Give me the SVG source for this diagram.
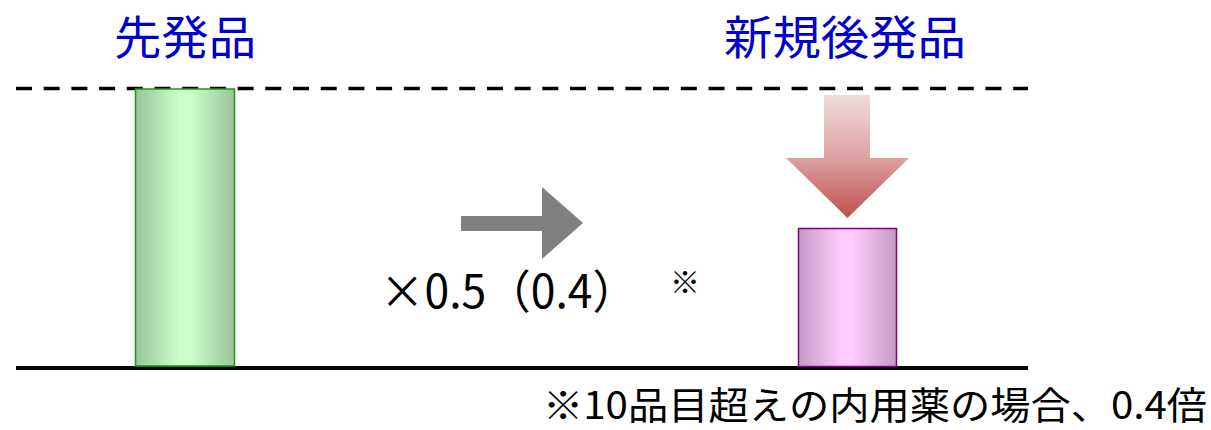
<svg xmlns="http://www.w3.org/2000/svg" width="1211" height="430" viewBox="0 0 1211 430">
<defs>
<linearGradient id="gGreen" x1="0" y1="0" x2="1" y2="0">
<stop offset="0" stop-color="#9bc39b"/>
<stop offset="0.45" stop-color="#ccffcc"/>
<stop offset="0.55" stop-color="#ccffcc"/>
<stop offset="1" stop-color="#9bc39b"/>
</linearGradient>
<linearGradient id="gPink" x1="0" y1="0" x2="1" y2="0">
<stop offset="0" stop-color="#c49ac4"/>
<stop offset="0.45" stop-color="#ffccff"/>
<stop offset="0.55" stop-color="#ffccff"/>
<stop offset="1" stop-color="#c49ac4"/>
</linearGradient>
<linearGradient id="gRed" x1="0" y1="0" x2="0" y2="1">
<stop offset="0" stop-color="#f2dcdb"/>
<stop offset="0.5" stop-color="#dba3a2"/>
<stop offset="1" stop-color="#c0504d"/>
</linearGradient>
<style>
.title{font-family:"Noto Sans CJK JP","Noto Sans",sans-serif;font-size:46px;fill:#0000cc;text-anchor:middle}
.label{font-family:"Noto Sans CJK JP","Noto Sans",sans-serif;fill:#000000}
</style>
</defs>
<g id="axes">
<line x1="16" y1="88.5" x2="1028" y2="88.5" stroke="#000" stroke-width="3.5" stroke-dasharray="16 11.7"/>
<line x1="16" y1="368" x2="1028" y2="368" stroke="#000" stroke-width="4"/>
</g>
<g id="title-left"><text class="title" x="185" y="53.5" textLength="142" lengthAdjust="spacingAndGlyphs">先発品</text></g>
<g id="title-right"><text class="title" x="845" y="53.5" textLength="242" lengthAdjust="spacingAndGlyphs">新規後発品</text></g>
<g id="bar-left"><rect x="135.5" y="89" width="99" height="277" fill="url(#gGreen)" stroke="#1a9a1a" stroke-width="1.5"/></g>
<g id="bar-right"><rect x="798.5" y="228.5" width="98" height="138" fill="url(#gPink)" stroke="#800080" stroke-width="1.5"/></g>
<g id="connectors">
<polygon id="arrow-down" points="824,95 870,95 870,158 909,158 847.5,218 786,158 824,158" fill="url(#gRed)"/>
<polygon id="arrow-right" points="461,216 542,216 542,187 583,223 542,259 542,231 461,231" fill="#808080"/>
</g>
<g id="ratio-label">
<text class="label" x="380" y="308" font-size="46" textLength="257" lengthAdjust="spacingAndGlyphs">×0.5（0.4）</text>
<text class="label" x="670" y="293" font-size="30">※</text>
</g>
<g id="footnote">
<text class="label" x="543" y="419" font-size="38" textLength="664" lengthAdjust="spacingAndGlyphs">※10品目超えの内用薬の場合、0.4倍</text>
</g>
</svg>
